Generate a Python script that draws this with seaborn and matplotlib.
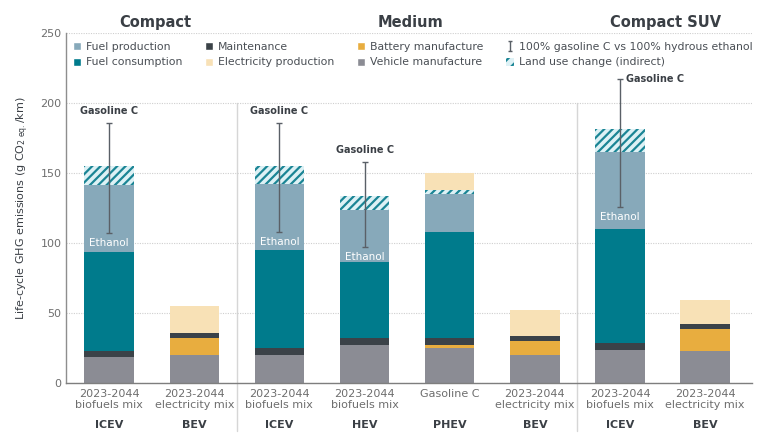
import numpy as np
import matplotlib
matplotlib.use("Agg")
import matplotlib.pyplot as plt
import seaborn as sns
from matplotlib.patches import Patch
from matplotlib.lines import Line2D
from matplotlib.path import Path

# ---------------- data ----------------
bar_ids = ["C-ICEV", "C-BEV", "M-ICEV", "M-HEV", "M-PHEV", "M-BEV", "S-ICEV", "S-BEV"]
tick_labels = ["2023-2044\nbiofuels mix", "2023-2044\nelectricity mix",
               "2023-2044\nbiofuels mix", "2023-2044\nbiofuels mix", "Gasoline C",
               "2023-2044\nelectricity mix", "2023-2044\nbiofuels mix",
               "2023-2044\nelectricity mix"]
powertrains = ["ICEV", "BEV", "ICEV", "HEV", "PHEV", "BEV", "ICEV", "BEV"]
segment_names = ["Compact", "Medium", "Compact SUV"]
segment_sizes = [2, 4, 2]

vehicle_manufacture = [19.0, 20.4, 20.4, 27.4, 25.0, 20.4, 23.8, 23.3]
battery_manufacture = [0.0, 11.7, 0.0, 0.0, 2.6, 9.6, 0.0, 15.3]
maintenance = [4.3, 3.8, 4.6, 4.7, 4.5, 3.6, 4.8, 3.8]
fuel_consumption = [70.3, 0.0, 70.0, 54.8, 75.8, 0.0, 81.8, 0.0]
fuel_production = [48.0, 0.0, 47.1, 36.9, 27.1, 0.0, 55.1, 0.0]
land_use_change = [13.6, 0.0, 13.4, 10.0, 3.0, 0.0, 15.9, 0.0]
electricity_production = [0.0, 19.5, 0.0, 0.0, 12.4, 19.0, 0.0, 17.1]

gasoline_c_high = [186, np.nan, 186, 158, np.nan, np.nan, 217, np.nan]
ethanol_low = [107, np.nan, 108, 97, np.nan, np.nan, 126, np.nan]

# ---------------- style ----------------
C_FP = "#87A9BA"
C_FC = "#007B8C"
C_MT = "#3B4248"
C_EL = "#F8E1B6"
C_BT = "#E8AD3F"
C_VM = "#8B8C94"
C_LUC_BG = "#DDF1F5"
C_LUC = "#1B8595"
TXT = "#3A3F45"
TICK = "#6E6E6E"

sns.set_theme(style="white")
plt.rcParams['font.family'] = ['DejaVu Sans']
plt.rcParams['hatch.linewidth'] = 1.6

fig = plt.figure(figsize=(7.68, 4.48), dpi=100)
ax = fig.add_axes([65.7 / 768, 1 - 383.3 / 448, (752 - 65.7) / 768, 350 / 448])

layers = [
    ("Vehicle manufacture", vehicle_manufacture, C_VM, None),
    ("Battery manufacture", battery_manufacture, C_BT, None),
    ("Maintenance", maintenance, C_MT, None),
    ("Fuel consumption", fuel_consumption, C_FC, None),
    ("Fuel production", fuel_production, C_FP, None),
    ("Land use change (indirect)", land_use_change, C_LUC_BG, "////"),
    ("Electricity production", electricity_production, C_EL, None),
]

n = len(bar_ids)
bottom = np.zeros(n)
for name, vals, color, hatch in layers:
    vals = np.asarray(vals, dtype=float)
    kw = dict(linewidth=0)
    if hatch:
        kw.update(hatch=hatch, edgecolor=C_LUC)
    sns.barplot(x=bar_ids, y=vals, order=bar_ids, bottom=bottom, color=color,
                saturation=1, width=0.58, errorbar=None, ax=ax, **kw)
    bottom = bottom + vals

ax.set_xlim(-0.51, 7.55)
ax.set_ylim(0, 250)
ax.set_yticks([0, 50, 100, 150, 200, 250])

# error bars
xpos = np.arange(n)
gas = np.asarray(gasoline_c_high, dtype=float)
eth = np.asarray(ethanol_low, dtype=float)
m = ~np.isnan(gas)
ax.errorbar(xpos[m], (gas[m] + eth[m]) / 2, yerr=(gas[m] - eth[m]) / 2, fmt='none',
            ecolor="#5A6067", elinewidth=1, capsize=2.2, capthick=1, zorder=5)
for i in xpos[m]:
    if gas[i] > 200:
        ax.annotate("Gasoline C", (i, gas[i]), xytext=(4, 0), textcoords='offset points',
                    ha='left', va='center', fontsize=7, fontweight='bold', color=TXT)
    else:
        ax.annotate("Gasoline C", (i, gas[i]), xytext=(0, 5), textcoords='offset points',
                    ha='center', va='bottom', fontsize=7, fontweight='bold', color=TXT)
    ax.annotate("Ethanol", (i, eth[i]), xytext=(0, -7), textcoords='offset points',
                ha='center', va='center', fontsize=7.5, color='white')

# axes styling
ax.yaxis.grid(True, linestyle=(0, (1, 1.2)), color="#CFCFCF", linewidth=0.8)
ax.xaxis.grid(False)
ax.set_axisbelow(True)
for s in ["top", "right"]:
    ax.spines[s].set_visible(False)
ax.spines["left"].set_color("#8E8E8E")
ax.spines["bottom"].set_color("#7E7E7E")
ax.spines["left"].set_linewidth(1)
ax.spines["bottom"].set_linewidth(1)

ax.set_xticks(xpos)
ax.set_xticklabels(tick_labels, fontsize=8, color=TICK, linespacing=1.15)
ax.tick_params(axis='x', length=0, pad=4)
ax.tick_params(axis='y', length=0, pad=3, labelsize=8, labelcolor=TICK)
ax.set_xlabel("")
ax.set_ylabel("Life-cycle GHG emissions (g CO$_{2\\ \\mathrm{eq.}}$/km)", fontsize=8,
              color=TXT, labelpad=7)

xt = ax.get_xaxis_transform()
for i, pt in enumerate(powertrains):
    ax.text(i, -0.118, pt, transform=xt, ha='center', va='center', fontsize=8,
            fontweight='bold', color=TXT)

# segment separators and titles
edges = np.concatenate([[0], np.cumsum(segment_sizes)])
for b in edges[1:-1]:
    ax.plot([b - 0.5, b - 0.5], [0.8, -0.135], transform=xt, clip_on=False,
            color="#D6D6D6", lw=1, zorder=0)
for name, a, b in zip(segment_names, edges[:-1], edges[1:]):
    ax.text((a + b - 1) / 2 + 0.04, 1.03, name, transform=xt, ha='center', va='center',
            fontsize=10.5, fontweight='bold', color=TXT)

# legend
err_marker = Path([(-0.5, -1), (0.5, -1), (0, -1), (0, 1), (-0.5, 1), (0.5, 1)],
                  [Path.MOVETO, Path.LINETO, Path.MOVETO, Path.LINETO, Path.MOVETO, Path.LINETO])
handles = [
    Patch(facecolor=C_FP, label="Fuel production"),
    Patch(facecolor=C_FC, label="Fuel consumption"),
    Patch(facecolor=C_MT, label="Maintenance"),
    Patch(facecolor=C_EL, label="Electricity production"),
    Patch(facecolor=C_BT, label="Battery manufacture"),
    Patch(facecolor=C_VM, label="Vehicle manufacture"),
    Line2D([0], [0], marker=err_marker, linestyle='none', color="#5A6067",
           markersize=7, markeredgewidth=1, label="100% gasoline C vs 100% hydrous ethanol"),
    Patch(facecolor=C_LUC_BG, edgecolor=C_LUC, hatch="///", linewidth=0,
          label="Land use change (indirect)"),
]
leg = fig.legend(handles=handles, loc='upper left', bbox_to_anchor=(73 / 768, 1 - 42 / 448),
                 ncol=4, frameon=False, fontsize=7.8, handlelength=0.75, handleheight=0.75,
                 handletextpad=0.45, columnspacing=2.1, labelspacing=0.5, borderpad=0,
                 borderaxespad=0)
for t in leg.get_texts():
    t.set_color("#4A4F55")

fig.savefig("out.png", dpi=100)
